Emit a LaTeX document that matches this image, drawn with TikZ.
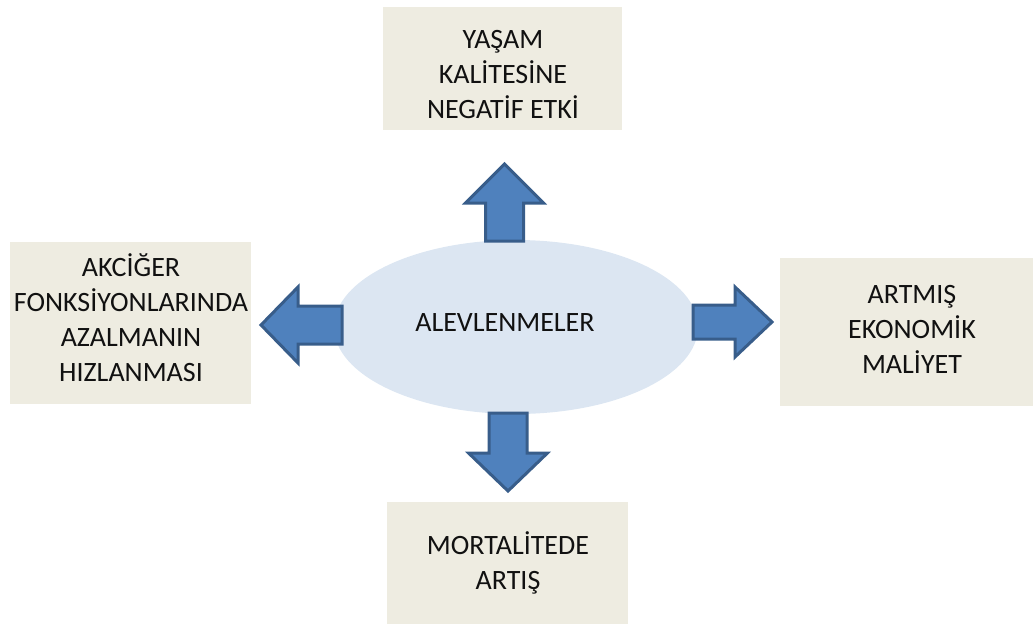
\documentclass[tikz,border=0pt]{standalone}
\usepackage{fontspec}
\setmainfont{Carlito}
\usetikzlibrary{shapes.geometric}
\definecolor{boxfill}{HTML}{EEECE1}
\definecolor{ellfill}{HTML}{DCE6F2}
\definecolor{arrfill}{HTML}{4F81BD}
\definecolor{arrline}{HTML}{385D8A}
\definecolor{txt}{HTML}{111111}
\begin{document}
\begin{tikzpicture}[x=1pt,y=-1pt,
  box/.style={fill=boxfill,draw=none,inner sep=0pt},
  lbl/.style={align=center,font=\fontsize{28}{35}\selectfont,text=txt,inner sep=0pt},
  blockarrow/.style={fill=arrfill,draw=arrline,line width=3pt,line join=miter}]
\useasboundingbox (0,0) rectangle (1036,624);
% boxes
\node[box,minimum width=239pt,minimum height=123pt] (top) at (502.5,68.5) {};
\node[box,minimum width=241pt,minimum height=162pt] (left) at (130.5,323) {};
\node[box,minimum width=253pt,minimum height=148pt] (right) at (906.5,332) {};
\node[box,minimum width=241pt,minimum height=122pt] (bottom) at (507.5,563) {};
% ellipse
\node[ellipse,fill=ellfill,draw=none,minimum width=364pt,minimum height=174pt,inner sep=0pt] (center) at (516,327) {};
\node[lbl] (centertext) at (505,323) {ALEVLENMELER};
% labels
\node[lbl] (toptext) at (503,75) {YAŞAM\\KALİTESİNE\\NEGATİF ETKİ};
\node[lbl] (lefttext) at (131,318) {AKCİĞER\\FONKSİYONLARINDA\\AZALMANIN\\HIZLANMASI};
\node[lbl] (righttext) at (912,329) {ARTMIŞ\\EKONOMİK\\MALİYET};
\node[lbl] (bottomtext) at (508,563) {MORTALİTEDE\\ARTIŞ};
% block arrows
\draw[blockarrow] (485.5,241) -- (485.5,203) -- (465.5,203) -- (504.5,164) -- (543.5,203) -- (523.5,203) -- (523.5,241) -- cycle;
\draw[blockarrow] (489,413) -- (489,453) -- (468.5,453) -- (508,491) -- (547.5,453) -- (527,453) -- (527,413) -- cycle;
\draw[blockarrow] (342,306) -- (298,306) -- (298,287) -- (261,325) -- (298,363) -- (298,344) -- (342,344) -- cycle;
\draw[blockarrow] (693,305) -- (735,305) -- (735,287) -- (772,322) -- (735,357) -- (735,339) -- (693,339) -- cycle;
\end{tikzpicture}
\end{document}
